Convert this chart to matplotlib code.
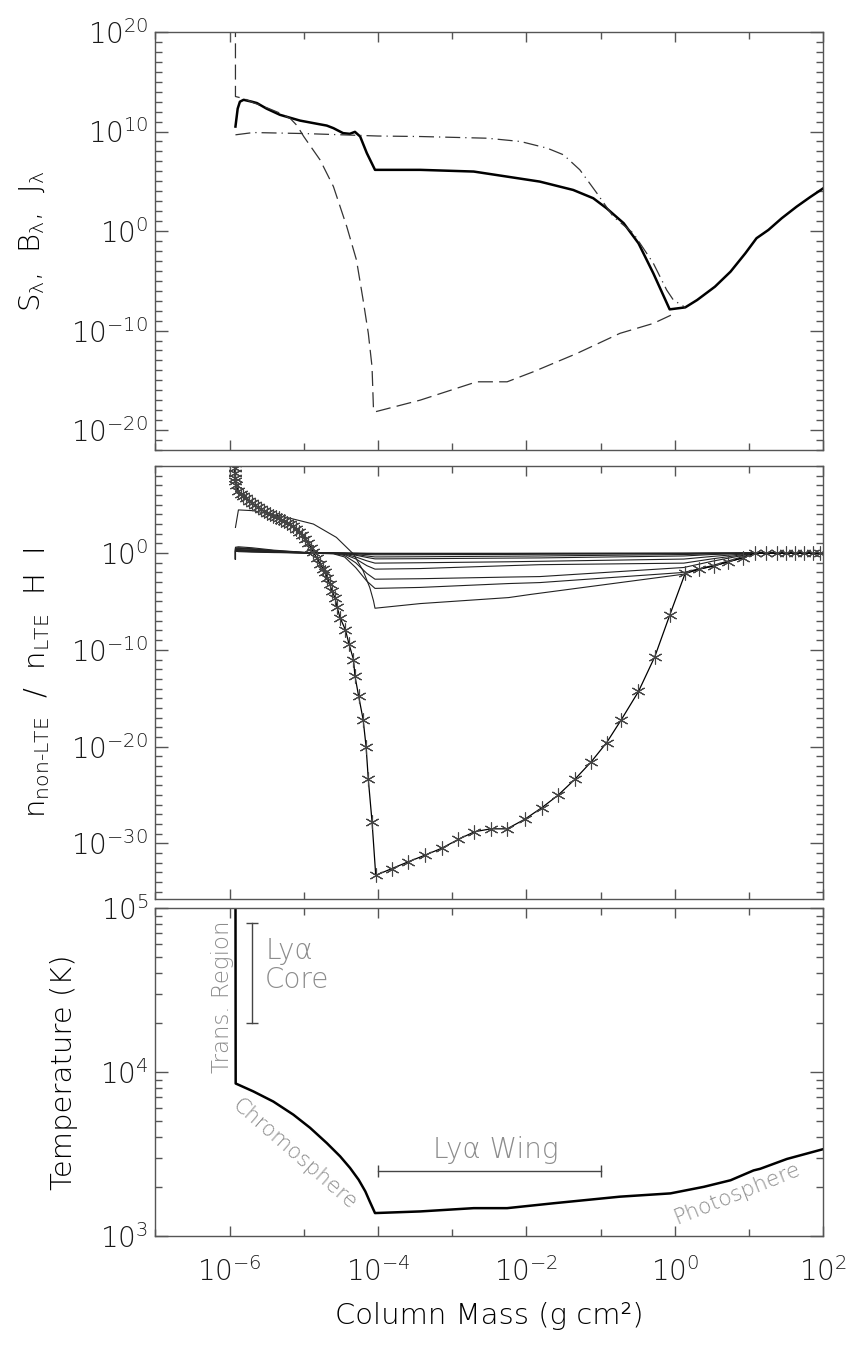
import matplotlib
matplotlib.use('Agg')
import matplotlib.pyplot as plt
import numpy as np
from matplotlib.ticker import NullFormatter

# thin, wide lettering close to the original plotting font
plt.rcParams['font.family'] = ['DejaVu Sans']
plt.rcParams['font.weight'] = 200
plt.rcParams['axes.labelweight'] = 200
plt.rcParams['mathtext.fontset'] = 'custom'
plt.rcParams['mathtext.rm'] = 'DejaVu Sans:weight=200'
plt.rcParams['mathtext.default'] = 'regular'

# ------------------------------------------------------------
# data (log10 column mass, log10 value)
# ------------------------------------------------------------
# panel 1: source function S, Planck B, mean intensity J
S_logm = [-5.92, -5.89, -5.86, -5.81, -5.70, -5.63, -5.50, -5.32, -5.05, -4.80, -4.69, -4.60,
          -4.47, -4.38, -4.31, -4.24, -4.15, -4.04, -3.43, -2.71, -2.26, -1.82, -1.37, -1.10,
          -0.92, -0.69, -0.49, -0.29, -0.07, 0.14, 0.30, 0.54, 0.75, 0.95, 1.10, 1.26, 1.44,
          1.64, 1.82, 2.0]
S_log = [10.5, 12.3, 13.0, 13.19, 13.0, 12.86, 12.3, 11.68, 11.1, 10.75, 10.6, 10.34,
         9.84, 9.77, 9.97, 9.5, 7.83, 6.15, 6.15, 5.98, 5.47, 4.97, 4.13, 3.30,
         2.29, 0.79, -1.23, -4.25, -7.87, -7.67, -6.93, -5.59, -4.08, -2.23, -0.72, 0.11, 1.29,
         2.45, 3.40, 4.3]

B_logm = [-5.92, -5.92, -5.80, -5.68, -5.50, -5.32, -5.18, -5.09, -5.0, -4.78, -4.60, -4.42,
          -4.29, -4.20, -4.13, -4.08, -4.06, -4.04, -3.43, -2.67, -2.26, -1.91, -1.32, -0.74,
          -0.29, 0.0]
B_log = [21.0, 13.52, 13.3, 12.9, 12.4, 11.85, 11.3, 10.6, 9.5, 7.15, 4.47, 0.44,
         -2.9, -6.93, -10.28, -13.64, -18.0, -18.17, -16.99, -15.15, -15.15, -14.15, -12.3, -10.28,
         -9.28, -8.27]

J_logm = [-5.92, -5.68, -5.0, -4.0, -3.43, -2.53, -2.08, -1.72, -1.50, -1.28, -1.05, -0.83,
          -0.56, -0.29, -0.11, -0.02, 0.14]
J_log = [9.67, 9.9, 9.8, 9.55, 9.5, 9.33, 9.0, 8.33, 7.66, 6.15, 3.8, 1.45,
         -0.22, -3.24, -5.93, -6.93, -7.67]

# panel 2: departure coefficients, H I ground level (asterisks)
b1_logm = [-5.93, -5.93, -5.93, -5.93, -5.925, -5.92, -5.91, -5.88, -5.85, -5.82, -5.78, -5.74,
           -5.70, -5.66, -5.62, -5.58, -5.54, -5.50, -5.46, -5.42, -5.38, -5.34, -5.30, -5.26,
           -5.22, -5.18, -5.14, -5.10, -5.06, -5.02, -4.98, -4.94, -4.90, -4.87, -4.82, -4.78,
           -4.74, -4.71, -4.68, -4.65, -4.62, -4.58, -4.55, -4.51, -4.44, -4.39, -4.33, -4.31,
           -4.26, -4.20, -4.16, -4.13, -4.08, -4.03, -3.81, -3.59, -3.36, -3.14, -2.92, -2.70,
           -2.48, -2.26, -2.02, -1.79, -1.57, -1.35, -1.13, -0.92, -0.72, -0.49, -0.27, -0.07,
           0.14, 0.33, 0.53, 0.72, 0.92, 1.08, 1.23, 1.37, 1.50, 1.62, 1.74, 1.86, 1.96]
b1_log = [9.8, 9.3, 8.8, 8.3, 7.8, 7.4, 7.0, 6.4, 6.15, 5.9, 5.65, 5.4,
          5.15, 4.92, 4.72, 4.52, 4.34, 4.17, 4.01, 3.87, 3.74, 3.61, 3.46, 3.30,
          3.14, 2.98, 2.75, 2.48, 2.2, 1.85, 1.45, 1.05, 0.55, 0.06, -0.55, -1.1,
          -1.6, -2.0, -2.6, -3.2, -3.9, -4.6, -5.6, -6.7, -7.9, -9.4, -11.0, -12.7,
          -14.8, -17.2, -20.0, -23.4, -27.75, -33.3, -32.6, -31.9, -31.2, -30.5, -29.6, -28.8,
          -28.5, -28.5, -27.5, -26.3, -25.0, -23.4, -21.6, -19.6, -17.2, -14.3, -10.7, -6.43,
          -2.07, -1.66, -1.32, -0.9, -0.49, 0.0, 0.0, 0.0, 0.0, 0.0, 0.0, 0.0, 0.0]

# upper levels (thin lines), sampled on common column-mass knots
lev_logm = [-5.92, -5.92, -5.88, -5.70, -5.40, -5.00, -4.60, -4.45, -4.30, -4.15, -4.04, -3.43,
            -2.24, -1.82, 0.12, 0.50, 1.08, 2.0]
n2_log = [-0.6, 0.2, 0.15, 0.10, 0.05, 0.02, 0.0, 0.0, -0.01, -0.02, -0.02, -0.02, -0.02, -0.02, -0.01, 0.0, 0.0, 0.0]
n3_log = [-0.6, 0.4, 0.35, 0.25, 0.10, 0.03, 0.0, -0.01, -0.02, -0.04, -0.05, -0.05, -0.05, -0.04, -0.02, -0.01, 0.0, 0.0]
n4_log = [-0.6, 0.5, 0.5, 0.4, 0.2, 0.05, 0.0, -0.01, -0.04, -0.07, -0.09, -0.09, -0.08, -0.07, -0.04, -0.02, 0.0, 0.0]
n5_log = [-0.6, 0.6, 0.65, 0.55, 0.3, 0.08, 0.0, -0.02, -0.08, -0.15, -0.18, -0.17, -0.14, -0.12, -0.06, -0.03, 0.0, 0.0]
n6_log = [-0.6, 0.5, 0.55, 0.45, 0.25, 0.07, 0.0, -0.04, -0.15, -0.3, -0.4, -0.38, -0.32, -0.3, -0.15, -0.08, 0.0, 0.0]
n7_log = [-0.6, 0.4, 0.45, 0.4, 0.2, 0.05, -0.01, -0.06, -0.22, -0.45, -0.6, -0.58, -0.52, -0.5, -0.3, -0.15, 0.0, 0.0]
n8_log = [-0.6, 0.3, 0.35, 0.3, 0.15, 0.04, -0.02, -0.1, -0.4, -0.8, -1.04, -1.0, -0.9, -0.85, -0.62, -0.35, 0.0, 0.0]
n9_log = [-0.6, 0.3, 0.3, 0.25, 0.12, 0.03, -0.03, -0.15, -0.6, -1.3, -1.66, -1.6, -1.3, -1.2, -1.04, -0.6, 0.0, 0.0]
n10_log = [-0.6, 0.25, 0.25, 0.2, 0.1, 0.02, -0.05, -0.25, -1.0, -2.1, -2.7, -2.65, -2.48, -2.43, -1.49, -0.85, 0.0, 0.0]
n11_log = [-0.6, 0.2, 0.2, 0.15, 0.08, 0.01, -0.08, -0.4, -1.5, -2.9, -3.65, -3.55, -3.15, -3.05, -2.0, -1.3, 0.0, 0.0]

bulge_logm = [-5.92, -5.88, -5.68, -5.23, -4.87, -4.56, -4.33, -4.20, -4.11, -4.06, -4.04, -3.43,
              -2.24, -1.95, 0.12, 0.33, 0.53, 0.72, 0.92, 1.10, 2.0]
bulge_log = [2.65, 4.46, 4.38, 3.69, 3.0, 1.62, -0.1, -1.83, -3.57, -4.94, -5.7, -5.22,
             -4.6, -4.28, -2.18, -1.66, -1.32, -0.9, -0.49, 0.0, 0.0]

# panel 3: temperature structure
T_logm = [-5.92, -5.917, -5.68, -5.41, -5.14, -4.915, -4.69, -4.51, -4.376, -4.26, -4.17, -4.11,
          -4.04, -3.43, -2.71, -2.26, -1.63, -0.74, -0.06, 0.39, 0.75, 1.06, 1.15, 1.51, 2.0]
T_log = [5.3, 3.93, 3.882, 3.82, 3.74, 3.66, 3.567, 3.486, 3.415, 3.343, 3.272, 3.21,
         3.14, 3.15, 3.17, 3.17, 3.20, 3.24, 3.26, 3.30, 3.34, 3.40, 3.41, 3.47, 3.53]

core_logm = [-5.70, -5.70]
core_logT = [4.30, 4.91]
wing_logm = [-4.0, -1.0]
wing_logT = [3.398, 3.398]

p = lambda a: 10.0 ** np.asarray(a)

# ------------------------------------------------------------
# figure
# ------------------------------------------------------------
fig = plt.figure(figsize=(8.57, 13.46), dpi=100)
ax1 = fig.add_axes([0.1812, 0.6657, 0.7795, 0.3105])
ax2 = fig.add_axes([0.1812, 0.3321, 0.7795, 0.3217])
ax3 = fig.add_axes([0.1812, 0.0817, 0.7795, 0.2437])

AXC = '#555555'
FS = 20     # tick labels
LFS = 21    # axis titles


def style(ax, ymaj=None, ymin=None):
    ax.set_xscale('log')
    ax.set_yscale('log')
    ax.set_xlim(1e-7, 1e2)
    ax.set_xticks(10.0 ** np.arange(-6, 3, 2))
    ax.set_xticks(10.0 ** np.arange(-7, 3, 2), minor=True)
    if ymaj is not None:
        ax.set_yticks(ymaj)
        ax.set_yticks(ymin, minor=True)
    ax.xaxis.set_minor_formatter(NullFormatter())
    ax.yaxis.set_minor_formatter(NullFormatter())
    ax.tick_params(which='both', direction='in', top=True, right=True,
                   color=AXC, labelcolor='#1a1a1a', labelsize=FS)
    ax.tick_params(axis='x', which='major', length=7, width=1, pad=15)
    ax.tick_params(axis='x', which='minor', length=5, width=1)
    ax.tick_params(axis='y', which='major', length=9.5, width=1, pad=5)
    ax.tick_params(axis='y', which='minor', length=5, width=1)
    for s in ax.spines.values():
        s.set_color(AXC)
        s.set_linewidth(1.0)


# ---- panel 1 ----
style(ax1, 10.0 ** np.arange(-20, 21, 10), 10.0 ** np.arange(-22, 21))
ax1.set_ylim(1e-22, 1e20)
ax1.plot(p(S_logm), p(S_log), color='black', lw=1.8)
ax1.plot(p(B_logm), p(B_log), color='#333333', lw=0.9, linestyle=(0, (12, 5)))
ax1.plot(p(J_logm), p(J_log), color='#333333', lw=0.9, linestyle=(0, (12, 4, 1, 4)))
ax1.tick_params(labelbottom=False)
ax1.set_ylabel(r'S$_{λ}$,  B$_{λ}$,  J$_{λ}$', fontsize=LFS)
ax1.yaxis.set_label_coords(-0.162, 0.5)

# ---- panel 2 ----
style(ax2, 10.0 ** np.arange(-30, 1, 10), 10.0 ** np.arange(-36, 10))
ax2.set_ylim(10 ** -35.75, 1e9)
for lev in [n2_log, n3_log, n4_log, n5_log, n6_log, n7_log, n8_log, n9_log, n10_log, n11_log]:
    ax2.plot(p(lev_logm), p(lev), color='#222222', lw=0.8)
ax2.plot(p(bulge_logm), p(bulge_log), color='#222222', lw=0.8)
ax2.plot(p(b1_logm), p(b1_log), color='black', lw=0.9,
         marker=(6, 2, 0), markersize=10, markeredgecolor='#444444', markeredgewidth=0.8)
ax2.tick_params(labelbottom=False)
ax2.set_ylabel('n$_\\mathregular{non\u2010LTE}$  /  n$_\\mathregular{LTE}$  H  I', fontsize=LFS)
ax2.yaxis.set_label_coords(-0.154, 0.5)

# ---- panel 3 ----
style(ax3)
ax3.set_ylim(1e3, 1e5)
ax3.plot(p(T_logm), p(T_log), color='black', lw=1.8)
ax3.plot(p(core_logm), p(core_logT), color='#444444', lw=1.0, marker='_', markersize=9)
ax3.plot(p(wing_logm), p(wing_logT), color='#444444', lw=1.0, marker='|', markersize=9)
ax3.set_ylabel('Temperature (K)', fontsize=LFS)
ax3.yaxis.set_label_coords(-0.115, 0.5)
ax3.set_xlabel('Column Mass (g cm²)', fontsize=LFS)
ax3.xaxis.set_label_coords(0.5, -0.201)

TC = '#8c8c8c'
ax3.text(10 ** -5.52, 10 ** 4.65, 'Lyα\nCore', fontsize=20, color=TC,
         ha='left', va='center', linespacing=1.05)
ax3.text(10 ** -6.09, 10 ** 4.46, 'Trans. Region', fontsize=16.5, color=TC,
         rotation=90, ha='center', va='center')
ax3.text(10 ** -5.13, 10 ** 3.50, 'Chromosphere', fontsize=15.5, color=TC,
         rotation=-41, ha='center', va='center', rotation_mode='anchor')
ax3.text(10 ** -2.41, 10 ** 3.527, 'Lyα Wing', fontsize=20, color=TC,
         ha='center', va='center')
ax3.text(10 ** 0.836, 10 ** 3.258, 'Photosphere', fontsize=15.5, color=TC,
         rotation=22, ha='center', va='center', rotation_mode='anchor')

fig.savefig('out.png', dpi=100, facecolor='white')
